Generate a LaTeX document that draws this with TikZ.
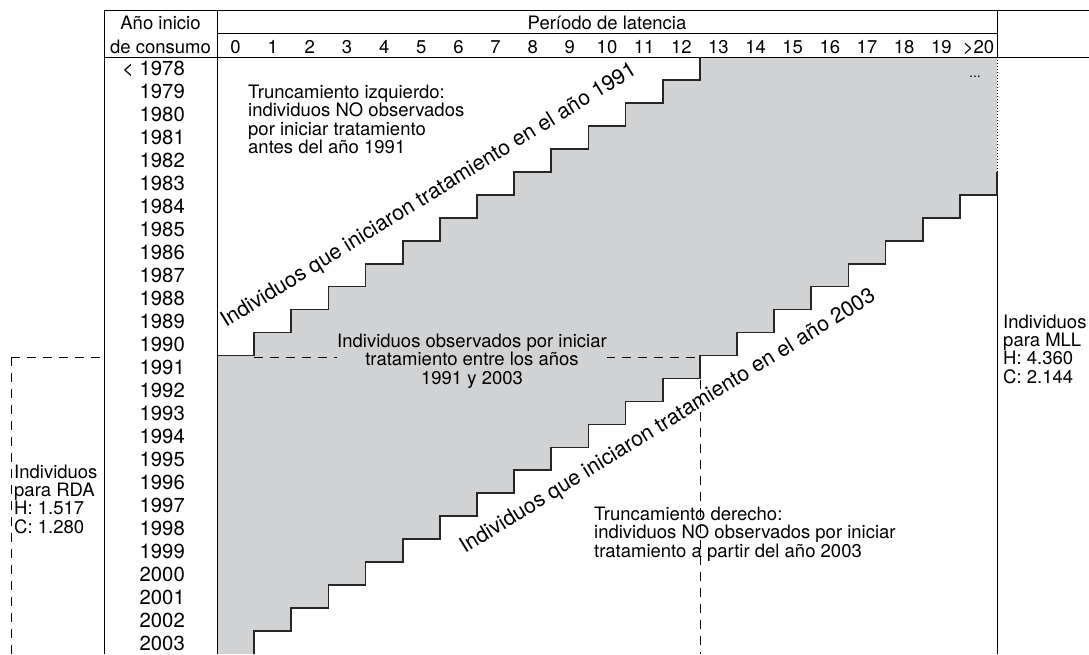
\documentclass[tikz,border=0pt]{standalone}
\usepackage{fontspec}
\setmainfont{TeX Gyre Heros}
\definecolor{cellgray}{RGB}{209,210,212}
\tikzset{
  grid line/.style={line width=1pt},
  stair/.style={line width=1.7pt, black!85},
  cut/.style={line width=0.9pt, dash pattern=on 9pt off 7pt},
  note/.style={font=\fontsize{18.5}{18.3}\selectfont, inner sep=0pt, align=left},
  headlbl/.style={font=\fontsize{18.5}{20}\selectfont, anchor=base, inner sep=0pt},
  yearlbl/.style={font=\fontsize{20.3}{22}\selectfont, anchor=base east, inner sep=0pt},
  slant/.style={font=\fontsize{21.4}{24}\selectfont, rotate=31.7, inner sep=0pt}
}
\def\colw{37.143}
\def\rowh{22.962}

\begin{document}
\begin{tikzpicture}[x=1pt, y=-1pt]
		\useasboundingbox (0,0) rectangle (1089,654);
		% grey cells, one row per year
		\foreach \r in {0,...,25} {
			\pgfmathsetmacro\xl{217+\colw*max(0,13-\r)}
			\pgfmathsetmacro\xr{217+\colw*min(21,26-\r)}
			\pgfmathsetmacro\yt{57+\r*\rowh}
			\pgfmathsetmacro\yb{57+\r*\rowh+\rowh+0.4}
			\fill[cellgray] (\xl,\yt) rectangle (\xr,\yb);
		}
		% dashed cuts
		\draw[cut] (11,357) -- (104,357);
		\draw[cut] (11,357) -- (11,654);
		\draw[cut] (254,357) -- (700,357);
		\draw[cut] (700,380) -- (700,654);
		% table
		\draw[grid line] (104,10) -- (1089,10);
		\draw[grid line] (217,33) -- (997,33);
		\draw[grid line] (104,57) -- (1089,57);
		\draw[grid line] (104,10) -- (104,654);
		\draw[grid line] (217,10) -- (217,654);
		\draw[grid line] (997,10) -- (997,57);
		\draw[grid line, dotted] (997,57) -- (997,171.8);
		\draw[grid line] (997,171.8) -- (997,654);
		% staircases
		\draw[stair] (699.86,57) \foreach \r in {0,...,12} { -- ++(0,\rowh) -- ++(-\colw,0) };
		\draw[stair] (997,171.8) -- ++(0,\rowh) \foreach \r in {1,...,20} { -- ++(-\colw,0) -- ++(0,\rowh) };
		% header
		\node[headlbl] (hd1) at (160.5,29.5) {Año inicio};
		\node[headlbl] (hd2) at (160.5,53.5) {de consumo};
		\node[headlbl] (lat) at (607,29.5) {Período de latencia};
		\foreach \n [count=\i from 0] in {0,...,19,>20}
			\node[headlbl] (lat\i) at ({217+(\i+0.5)*\colw},53.5) {\n};
		% years
		\foreach \yr [count=\r from 0] in {1978,...,2003}
			\node[yearlbl] (yr\r) at (185,{57+(\r+0.5)*\rowh+7.5}) {\ifnum\r=0 < \fi\yr};
		% texts
		\node[slant] (start1991) at (429,196) {Individuos que iniciaron tratamiento en el año 1991};
		\node[slant] (start2003) at (668,422) {Individuos que iniciaron tratamiento en el año 2003};
		\node[note, anchor=north west] (leftcut) at (248,85) {Truncamiento izquierdo:\\individuos NO observados\\por iniciar tratamiento\\antes del año 1991};
		\node[note, align=center, fill=cellgray] (observed) at (472,361) {Individuos observados por iniciar\\tratamiento entre los años\\1991 y 2003};
		\node[note, anchor=west] (rightcut) at (594,534) {Truncamiento derecho:\\individuos NO observados por iniciar\\tratamiento a partir del año 2003};
		\node[note, anchor=west] (rda) at (14,499) {Individuos\\para RDA\\H: 1.517\\C: 1.280};
		\node[note, anchor=west] (mll) at (1003,349) {Individuos\\para MLL\\H: 4.360\\C: 2.144};
		\node[note, font=\fontsize{14}{16}\selectfont] (more) at (975,77) {...};
	\end{tikzpicture}
\end{document}
